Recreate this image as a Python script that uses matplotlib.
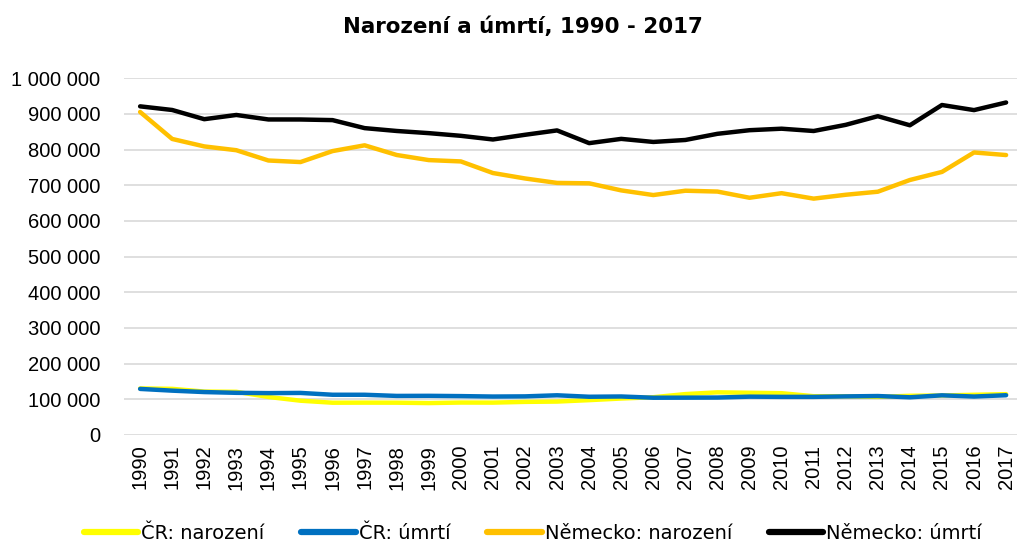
import numpy as np
import matplotlib.pyplot as plt
from matplotlib.ticker import FuncFormatter

plt.rcParams['font.family'] = ['DejaVu Sans']

years = list(range(1990, 2018))

cz_births = [130564, 129354, 121705, 121025, 106579, 96097, 90446, 90657, 90535, 89471,
             90910, 90715, 92786, 93685, 97664, 102211, 105831, 114632, 119570, 118348,
             117153, 108673, 108576, 106751, 109860, 110764, 112663, 114405]
cz_deaths = [129166, 124290, 120337, 118185, 117373, 117913, 112782, 112744, 109527, 109768,
             109001, 107755, 108243, 111288, 107177, 107938, 104441, 104636, 104948, 107421,
             106844, 106848, 108189, 109160, 105665, 111173, 107750, 111443]
de_births = [905675, 830019, 809114, 798447, 769603, 765221, 796013, 812173, 785034, 770744,
             766999, 734475, 719250, 706721, 705622, 685795, 672724, 684862, 682514, 665126,
             677947, 662685, 673544, 682069, 714927, 737575, 792141, 784901]
de_deaths = [921445, 911245, 885443, 897270, 884661, 884588, 882843, 860389, 852382, 846330,
             838797, 828541, 841686, 853946, 818271, 830227, 821627, 827155, 844439, 854544,
             858768, 852328, 869582, 893825, 868356, 925200, 910899, 932272]

labels = ['ČR: narození', 'ČR: úmrtí', 'Německo: narození', 'Německo: úmrtí']
colors = ['#FFFF00', '#0070C0', '#FFC000', '#000000']

fig = plt.figure(figsize=(10.17, 5.47), dpi=100)
ax = fig.add_axes([0.122, 0.2048, 0.878, 0.652])

x = np.arange(len(years))
for series, lab, col in zip([cz_births, cz_deaths, de_births, de_deaths], labels, colors):
    ax.plot(x, series, color=col, lw=3.2, label=lab, solid_capstyle='round', solid_joinstyle='round')

ax.set_ylim(0, 1000000)
ax.set_xlim(-0.5, 27.34)
ax.set_yticks(np.arange(0, 1000001, 100000))
ax.yaxis.set_major_formatter(FuncFormatter(lambda v, p: f"{int(v):,}".replace(',', ' ')))
ax.set_xticks(x)
ax.set_xticklabels([str(y) for y in years], rotation=90)
ax.tick_params(axis='both', length=0, labelsize=14.5, colors='#000000')
for t in ax.get_xticklabels() + ax.get_yticklabels():
    t.set_fontfamily('Liberation Sans')
ax.tick_params(axis='y', pad=17)
ax.tick_params(axis='x', pad=7)
ax.grid(axis='y', color='#d9d9d9', lw=1.2)
ax.set_axisbelow(True)
for s in ax.spines.values():
    s.set_visible(False)

fig.suptitle('Narození a úmrtí, 1990 - 2017', x=0.514, y=0.97, fontsize=15.4, fontweight='bold')
leg = fig.legend(loc='lower center', ncol=4, frameon=False, fontsize=14, handlelength=2.8,
                 columnspacing=1.9, bbox_to_anchor=(0.524, -0.025), handletextpad=0.15)
for h in leg.get_lines():
    h.set_linewidth(4.5)

fig.savefig('out.png', dpi=100)
